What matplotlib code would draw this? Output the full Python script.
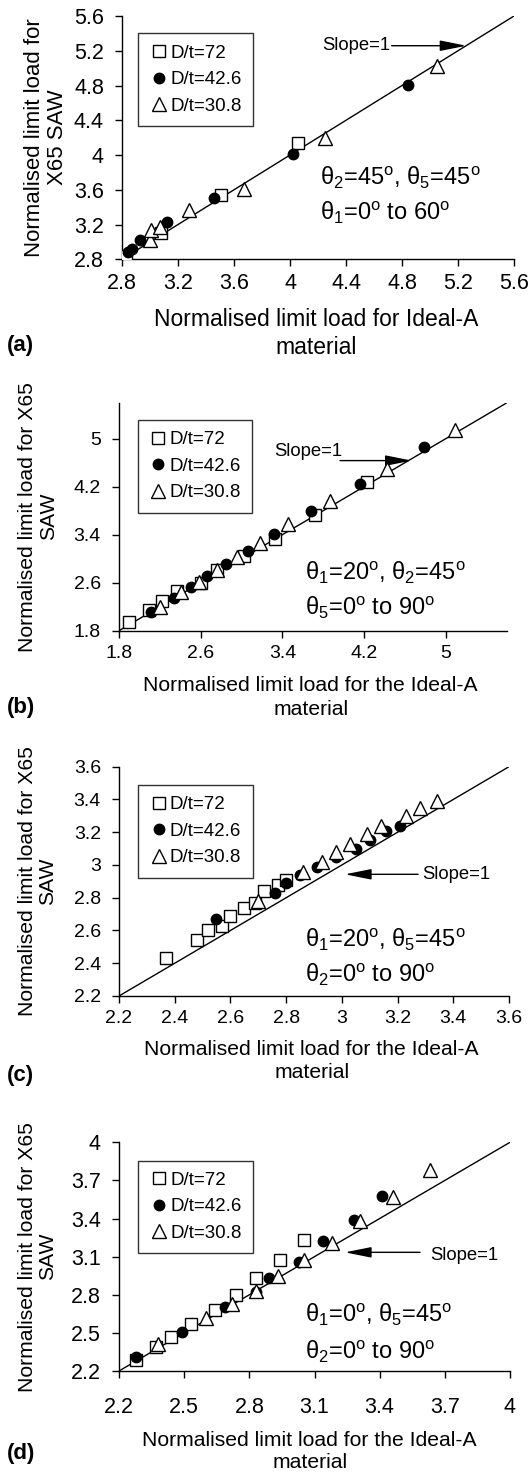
import matplotlib
matplotlib.use("Agg")
import matplotlib.pyplot as plt

plt.rcParams['font.family'] = ['Liberation Sans', 'DejaVu Sans']
plt.rcParams['mathtext.fontset'] = 'custom'
plt.rcParams['mathtext.rm'] = 'Liberation Sans'
plt.rcParams['mathtext.it'] = 'Liberation Sans:italic'

# ---- data ----
legend_labels = ["D/t=72", "D/t=42.6", "D/t=30.8"]

# (a) theta2=45, theta5=45, theta1=0..60
a_sq_x = [2.83, 3.08, 3.51, 4.06]
a_sq_y = [2.84, 3.10, 3.54, 4.14]
a_ci_x = [2.84, 2.87, 2.93, 3.12, 3.46, 4.02, 4.84]
a_ci_y = [2.88, 2.92, 3.02, 3.23, 3.51, 4.01, 4.81]
a_tr_x = [3.00, 3.01, 3.07, 3.28, 3.67, 4.25, 5.05]
a_tr_y = [3.02, 3.14, 3.17, 3.37, 3.61, 4.20, 5.03]
a_ticks = [2.8, 3.2, 3.6, 4.0, 4.4, 4.8, 5.2, 5.6]

# (b) theta1=20, theta2=45, theta5=0..90
b_sq_x = [1.90, 2.09, 2.22, 2.37, 2.60, 2.76, 3.02, 3.33, 3.72, 4.23]
b_sq_y = [1.94, 2.15, 2.30, 2.46, 2.60, 2.81, 3.04, 3.33, 3.73, 4.28]
b_ci_x = [2.11, 2.34, 2.51, 2.66, 2.85, 3.06, 3.32, 3.68, 4.16, 4.79]
b_ci_y = [2.11, 2.35, 2.53, 2.71, 2.92, 3.13, 3.42, 3.79, 4.24, 4.87]
b_tr_x = [2.20, 2.41, 2.58, 2.76, 2.96, 3.18, 3.46, 3.87, 4.42, 5.09]
b_tr_y = [2.19, 2.44, 2.61, 2.82, 3.03, 3.27, 3.58, 3.97, 4.49, 5.14]
b_ticks = [1.8, 2.6, 3.4, 4.2, 5.0]

# (c) theta1=20, theta5=45, theta2=0..90
c_sq_x = [2.37, 2.48, 2.52, 2.57, 2.60, 2.65, 2.69, 2.72, 2.77, 2.80]
c_sq_y = [2.43, 2.54, 2.60, 2.63, 2.69, 2.74, 2.77, 2.84, 2.88, 2.91]
c_ci_x = [2.55, 2.76, 2.80, 2.85, 2.91, 2.98, 3.05, 3.10, 3.16, 3.21]
c_ci_y = [2.67, 2.83, 2.89, 2.94, 2.99, 3.05, 3.10, 3.15, 3.21, 3.24]
c_tr_x = [2.70, 2.86, 2.93, 2.98, 3.03, 3.09, 3.14, 3.23, 3.28, 3.34]
c_tr_y = [2.78, 2.96, 3.02, 3.08, 3.13, 3.19, 3.24, 3.30, 3.35, 3.39]
c_ticks = [2.2, 2.4, 2.6, 2.8, 3.0, 3.2, 3.4, 3.6]

# (d) theta1=0, theta5=45, theta2=0..90
d_sq_x = [2.28, 2.37, 2.44, 2.53, 2.64, 2.74, 2.83, 2.94, 3.05]
d_sq_y = [2.29, 2.39, 2.47, 2.57, 2.68, 2.80, 2.93, 3.07, 3.23]
d_ci_x = [2.28, 2.49, 2.69, 2.83, 2.89, 3.03, 3.14, 3.28, 3.41]
d_ci_y = [2.31, 2.51, 2.70, 2.82, 2.93, 3.06, 3.22, 3.39, 3.58]
d_tr_x = [2.38, 2.60, 2.72, 2.83, 2.93, 3.05, 3.18, 3.31, 3.46, 3.63]
d_tr_y = [2.41, 2.62, 2.73, 2.83, 2.95, 3.07, 3.21, 3.38, 3.57, 3.78]
d_ticks = [2.2, 2.5, 2.8, 3.1, 3.4, 3.7, 4.0]

W, H = 531, 1475
fig = plt.figure(figsize=(W / 100, H / 100), dpi=100)


def fmt(v):
    return ("%g" % v)


def panel(rect, sq, ci, tr, ticks, lim, xlab, ylab, cond, slope, legpos,
          tick_fs=15.5, xlab_fs=15.2, ylab_fs=15.2, xpad=5,
          xlab_pos=(0.494, -0.2), ylab_x=-0.158, xlab_ls=1.3):
    ax = fig.add_axes(rect)
    ax.plot(lim, lim, color="black", lw=1.0, zorder=1)
    ax.plot(sq[0], sq[1], ls="none", marker="s", ms=8.5, mfc="white",
            mec="black", mew=1.0, label=legend_labels[0], zorder=3)
    ax.plot(ci[0], ci[1], ls="none", marker="o", ms=7.5, mfc="black",
            mec="black", label=legend_labels[1], zorder=4)
    ax.plot(tr[0], tr[1], ls="none", marker="^", ms=9.5, mfc="white",
            mec="black", mew=1.0, label=legend_labels[2], zorder=5)
    ax.set_xlim(lim)
    ax.set_ylim(lim)
    ax.set_xticks(ticks)
    ax.set_yticks(ticks)
    ax.set_xticklabels([fmt(t) for t in ticks])
    ax.set_yticklabels([fmt(t) for t in ticks])
    for s in ["top", "right"]:
        ax.spines[s].set_visible(False)
    for s in ["left", "bottom"]:
        ax.spines[s].set_linewidth(1.0)
    ax.tick_params(axis="x", direction="out", length=5, width=1.0,
                   labelsize=tick_fs, pad=xpad)
    ax.tick_params(axis="y", direction="out", length=5, width=1.0,
                   labelsize=tick_fs, pad=8)
    ax.set_xlabel(xlab, fontsize=xlab_fs, linespacing=xlab_ls)
    ax.xaxis.set_label_coords(*xlab_pos)
    ax.xaxis.label.set_verticalalignment("top")
    ax.set_ylabel(ylab, fontsize=ylab_fs, linespacing=1.1)
    ax.yaxis.set_label_coords(ylab_x, 0.5)

    leg = ax.legend(loc="upper left", bbox_to_anchor=legpos, borderaxespad=0,
                    fontsize=13.5, frameon=True, fancybox=False,
                    handlelength=1.0, handletextpad=0.1, borderpad=0.6,
                    labelspacing=0.5, numpoints=1)
    leg.get_frame().set_edgecolor("black")
    leg.get_frame().set_linewidth(1.0)

    ax.text(cond[0], cond[1], cond[2], transform=ax.transAxes, fontsize=17,
            va="center", ha="left")
    ax.text(cond[0], cond[3], cond[4], transform=ax.transAxes, fontsize=17,
            va="center", ha="left")

    # slope label + arrow (text pos, arrow start, arrow tip)
    tx, ty, ha, x0, y0, x1, y1 = slope
    ax.text(tx, ty, "Slope=1", fontsize=13.3, ha=ha, va="center")
    ax.annotate("", xy=(x1, y1), xytext=(x0, y0),
                arrowprops=dict(arrowstyle="-|>,head_length=0.9,head_width=0.18",
                                color="black", lw=1.0, shrinkA=0, shrinkB=0,
                                mutation_scale=18))
    return ax


ylab_a = "Normalised limit load for\nX65 SAW"
ylab_b = "Normalised limit load for X65\nSAW"
xlab_a = "Normalised limit load for Ideal-A\nmaterial"
xlab_b = "Normalised limit load for the Ideal-A\nmaterial"

# (a)
panel([122 / W, 1 - 259.3 / H, 392 / W, 243.3 / H],
      (a_sq_x, a_sq_y), (a_ci_x, a_ci_y), (a_tr_x, a_tr_y), a_ticks, (2.8, 5.6),
      xlab_a, ylab_a,
      (0.505, 0.334, r"θ$_2$=45$^{\mathrm{o}}$, θ$_5$=45$^{\mathrm{o}}$",
       0.19, r"θ$_1$=0$^{\mathrm{o}}$ to 60$^{\mathrm{o}}$"),
      (4.714, 5.266, "right", 4.726, 5.258, 5.26, 5.258),
      (0.042, 0.929), tick_fs=15.5, xlab_fs=16.5, ylab_fs=16,
      xlab_pos=(0.495, -0.2), ylab_x=-0.138)

# (b)
panel([119 / W, 1 - 630.7 / H, 388 / W, 228 / H],
      (b_sq_x, b_sq_y), (b_ci_x, b_ci_y), (b_tr_x, b_tr_y), b_ticks, (1.8, 5.6),
      xlab_b, ylab_b,
      (0.479, 0.253, r"θ$_1$=20$^{\mathrm{o}}$, θ$_2$=45$^{\mathrm{o}}$",
       0.10, r"θ$_5$=0$^{\mathrm{o}}$ to 90$^{\mathrm{o}}$"),
      (3.984, 4.783, "right", 3.964, 4.635, 4.667, 4.635),
      (0.048, 0.924), tick_fs=14, xlab_pos=(0.494, -0.2))

# (c)
panel([119 / W, 1 - 996 / H, 390 / W, 229.3 / H],
      (c_sq_x, c_sq_y), (c_ci_x, c_ci_y), (c_tr_x, c_tr_y), c_ticks, (2.2, 3.6),
      xlab_b, ylab_b,
      (0.477, 0.244, r"θ$_1$=20$^{\mathrm{o}}$, θ$_5$=45$^{\mathrm{o}}$",
       0.092, r"θ$_2$=0$^{\mathrm{o}}$ to 90$^{\mathrm{o}}$"),
      (3.287, 2.943, "left", 3.274, 2.943, 3.011, 2.943),
      (0.049, 0.92), tick_fs=14, xlab_pos=(0.494, -0.19))

# (d)
panel([119 / W, 1 - 1371 / H, 391 / W, 228.7 / H],
      (d_sq_x, d_sq_y), (d_ci_x, d_ci_y), (d_tr_x, d_tr_y), d_ticks, (2.2, 4.0),
      xlab_b, ylab_b,
      (0.476, 0.245, r"θ$_1$=0$^{\mathrm{o}}$, θ$_5$=45$^{\mathrm{o}}$",
       0.084, r"θ$_2$=0$^{\mathrm{o}}$ to 90$^{\mathrm{o}}$"),
      (3.632, 3.107, "left", 3.586, 3.134, 3.24, 3.134),
      (0.049, 0.92), tick_fs=15.5, xpad=14, xlab_pos=(0.488, -0.262),
      xlab_ls=1.2)

# panel letters
for lab, ypix in [("(a)", 345), ("(b)", 708), ("(c)", 1075), ("(d)", 1453)]:
    fig.text(7 / W, 1 - ypix / H, lab, fontsize=16, fontweight="bold",
             ha="left", va="center")

fig.savefig("out.png", dpi=100)
